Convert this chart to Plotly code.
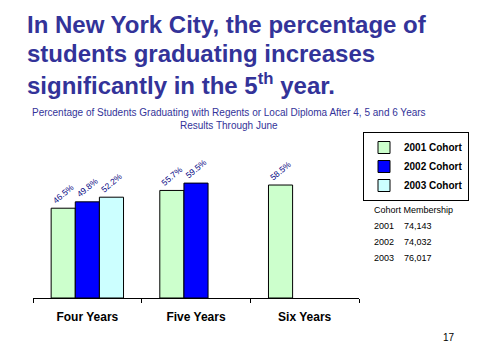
import plotly.graph_objects as go

categories = ["Four Years", "Five Years", "Six Years"]
cohort_2001 = [46.5, 55.7, 58.5]
cohort_2002 = [49.8, 59.5, None]
cohort_2003 = [52.2, None, None]
series_names = ["2001 Cohort", "2002 Cohort", "2003 Cohort"]
membership_years = ["2001", "2002", "2003"]
membership_counts = ["74,143", "74,032", "76,017"]
title_lines = ["In New York City, the percentage of",
               "students graduating increases",
               "significantly in the 5<sup>th</sup> year."]

# page body has an 8px margin; work in screen coordinates and offset
OFF = 8
W, H = 485 - OFF, 363 - OFF
L, R, T, B = 33 - OFF, 485 - 359, 130 - OFF, 363 - 298
PW, PH = W - L - R, H - T - B

def px(x):
    return (x - OFF - L) / PW

def py(y):
    return (H - B - (y - OFF)) / PH

FONT = "Liberation Sans, Arial"
colors = ["#CCFFCC", "#0000FF", "#CCFFFF"]
fig = go.Figure()
for name, vals, col in zip(series_names, [cohort_2001, cohort_2002, cohort_2003], colors):
    fig.add_trace(go.Bar(
        x=categories, y=vals, name=name,
        marker=dict(color=col, line=dict(color="black", width=1)),
        text=[f"{v:.1f}%" if v is not None else "" for v in vals],
        textposition="outside", textangle=-40,
        textfont=dict(family=FONT, size=10, color="#000080"),
        cliponaxis=False,
    ))

fig.update_layout(
    width=W, height=H,
    margin=dict(l=L, r=R, t=T, b=B, autoexpand=False),
    paper_bgcolor="white", plot_bgcolor="white",
    barmode="group", bargap=0.334, bargroupgap=0,
    showlegend=True,
    legend=dict(
        x=px(363), y=py(132), xanchor="left", yanchor="top",
        bordercolor="black", borderwidth=1, bgcolor="white",
        font=dict(family=FONT, size=10, color="black", weight="bold"),
        tracegroupgap=0, itemwidth=30,
    ),
    xaxis=dict(
        showline=True, linecolor="black", linewidth=1,
        ticks="outside", tickson="boundaries", ticklen=4, tickcolor="black",
        tickfont=dict(family=FONT, size=12, color="black", weight="bold"),
        ticklabelstandoff=8, showgrid=False,
    ),
    yaxis=dict(range=[0, 87], visible=False, showgrid=False),
)

ann = []
for i, line in enumerate(title_lines):
    ann.append(dict(
        text=line, x=px(25), y=py(9 + 29 * i), xref="paper", yref="paper",
        xanchor="left", yanchor="top", align="left", showarrow=False,
        font=dict(family=FONT, size=24, color="#333399", weight="bold"),
    ))
ann.append(dict(
    text="Percentage of Students Graduating with Regents or Local Diploma After 4, 5 and 6 Years<br>Results Through June",
    x=px(229), y=py(119), xref="paper", yref="paper", xanchor="center", yanchor="middle",
    showarrow=False, font=dict(family=FONT, size=10, color="#333399"),
))
ann.append(dict(text="Cohort Membership", x=px(372), y=py(210), xref="paper", yref="paper",
                xanchor="left", yanchor="middle", showarrow=False,
                font=dict(family=FONT, size=9, color="black")))
for i, (yr, cnt) in enumerate(zip(membership_years, membership_counts)):
    yy = 226 + i * 16
    ann.append(dict(text=yr, x=px(372), y=py(yy), xref="paper", yref="paper",
                    xanchor="left", yanchor="middle", showarrow=False,
                    font=dict(family=FONT, size=9, color="black")))
    ann.append(dict(text=cnt, x=px(402), y=py(yy), xref="paper", yref="paper",
                    xanchor="left", yanchor="middle", showarrow=False,
                    font=dict(family=FONT, size=9, color="black")))
ann.append(dict(text="17", x=px(449), y=py(337), xref="paper", yref="paper",
                xanchor="center", yanchor="middle", showarrow=False,
                font=dict(family=FONT, size=10, color="black")))
fig.update_layout(annotations=ann)

fig.write_html("out.html")
